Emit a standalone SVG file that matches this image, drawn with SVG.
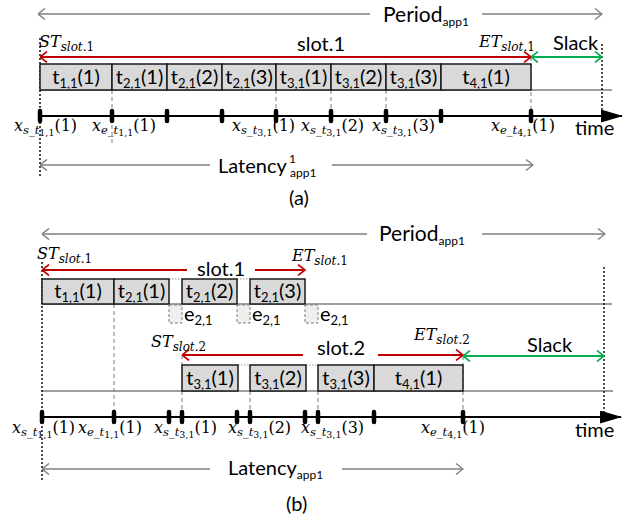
<svg xmlns="http://www.w3.org/2000/svg" width="633" height="522" viewBox="0 0 633 522">
  <style>
    .sans { font-family: Lato, "Liberation Sans", sans-serif; fill: #000; }
    .box-t { font-size: 20px; text-anchor: middle; }
    .sb { font-size: 13px; }
    .big { font-size: 20px; }
    .per { font-size: 21px; }
    .small { font-size: 12px; }
    .math { font-family: "DejaVu Serif", "Liberation Serif", serif; font-size: 16px; fill: #000; }
    .mi { font-style: italic; }
    .ms { font-style: italic; font-size: 11.5px; }
    .mss { font-size: 9.5px; }
    .st { font-family: "DejaVu Serif", "Liberation Serif", serif; font-size: 16px; fill: #000; }
    .st-s { font-style: italic; font-size: 12px; }
    .st-n { font-size: 12px; }
    .task { fill: #d9d9d9; stroke: #1a1a1a; stroke-width: 1.5; }
    .gap { fill: #efefef; stroke: #7f7f7f; stroke-width: 1; stroke-dasharray: 3 2; }
    .gline { stroke: #7f7f7f; stroke-width: 1.6; fill: none; }
    .garrow { stroke: #7f7f7f; stroke-width: 1.6; fill: none; }
    .rarrow { stroke: #c00000; stroke-width: 1.8; fill: none; }
    .grn { stroke: #00b050; stroke-width: 1.8; fill: none; }
    .dash { stroke: #7f7f7f; stroke-width: 1; stroke-dasharray: 4 3; fill: none; }
    .dot { stroke: #000; stroke-width: 1.4; stroke-dasharray: 2 2; fill: none; }
    .tdot { stroke: #9a9a9a; stroke-width: 1; stroke-dasharray: 1.5 1.5; fill: none; }
    .axis { stroke: #000; stroke-width: 2; fill: none; }
    .tick { stroke: #000; stroke-width: 4.5; stroke-linecap: round; }
  </style>
  <defs>
    <marker id="mg" viewBox="0 0 10 12" refX="9.5" refY="6" markerWidth="10" markerHeight="12" markerUnits="userSpaceOnUse" orient="auto-start-reverse">
      <path d="M2.5,0.5 L9.5,6 L2.5,11.5" fill="none" stroke="#7f7f7f" stroke-width="1.4"/>
    </marker>
    <marker id="mr" viewBox="0 0 10 12" refX="9.5" refY="6" markerWidth="10" markerHeight="12" markerUnits="userSpaceOnUse" orient="auto-start-reverse">
      <path d="M2.5,0.5 L9.5,6 L2.5,11.5" fill="none" stroke="#c00000" stroke-width="1.6"/>
    </marker>
    <marker id="mgr" viewBox="0 0 10 12" refX="9.5" refY="6" markerWidth="10" markerHeight="12" markerUnits="userSpaceOnUse" orient="auto-start-reverse">
      <path d="M2.5,0.5 L9.5,6 L2.5,11.5" fill="none" stroke="#00b050" stroke-width="1.6"/>
    </marker>
    <marker id="mt" viewBox="0 0 22 13" refX="21" refY="6.5" markerWidth="22" markerHeight="13" markerUnits="userSpaceOnUse" orient="auto">
      <path d="M0,0 L22,6.5 L0,13 Z" fill="#000"/>
    </marker>
  </defs>

  <!-- ===================== (a) single slot ===================== -->
  <g id="a-guides">
    <line class="gline" x1="40" y1="90" x2="612" y2="90"/>
    <line class="dot" x1="40" y1="38" x2="40" y2="176"/>
    <line class="dot" x1="602" y1="44" x2="602" y2="117"/>
    <path class="dash" d="M112,90 V146 M276,90 V116 M331,90 V116 M386,90 V116 M531,57 V116"/>
  </g>

  <g id="a-period">
    <line class="garrow" x1="38" y1="14" x2="370" y2="14" marker-start="url(#mg)"/>
    <line class="garrow" x1="482" y1="14" x2="602" y2="14" marker-end="url(#mg)"/>
    <text class="sans per" x="383" y="22">Period<tspan class="small" dy="4">app1</tspan></text>
  </g>

  <g id="a-slot1">
    <line class="rarrow" x1="40" y1="57" x2="531" y2="57" marker-start="url(#mr)" marker-end="url(#mr)"/>
    <text class="sans big" x="297" y="51">slot.1</text>
    <text class="st" x="39" y="47"><tspan class="mi">ST</tspan><tspan class="st-s" dy="4">slot</tspan><tspan class="st-n">.1</tspan></text>
    <text class="st" x="479" y="47"><tspan class="mi">ET</tspan><tspan class="st-s" dy="4">slot</tspan><tspan class="st-n">.1</tspan></text>
  </g>

  <g id="a-slack">
    <line class="grn" x1="531" y1="57" x2="602" y2="57" marker-start="url(#mgr)" marker-end="url(#mgr)"/>
    <text class="sans big" x="553" y="50">Slack</text>
  </g>

  <g id="a-tasks">
    <rect class="task" x="40" y="64" width="72" height="26"/>
    <rect class="task" x="112" y="64" width="55" height="26"/>
    <rect class="task" x="167" y="64" width="55" height="26"/>
    <rect class="task" x="222" y="64" width="54" height="26"/>
    <rect class="task" x="276" y="64" width="55" height="26"/>
    <rect class="task" x="331" y="64" width="55" height="26"/>
    <rect class="task" x="386" y="64" width="55" height="26"/>
    <rect class="task" x="441" y="64" width="90" height="26"/>
    <text class="sans box-t" x="76" y="84">t<tspan class="sb" dy="4">1,1</tspan><tspan dy="-4">(1)</tspan></text>
    <text class="sans box-t" x="139.5" y="84">t<tspan class="sb" dy="4">2,1</tspan><tspan dy="-4">(1)</tspan></text>
    <text class="sans box-t" x="194.5" y="84">t<tspan class="sb" dy="4">2,1</tspan><tspan dy="-4">(2)</tspan></text>
    <text class="sans box-t" x="249" y="84">t<tspan class="sb" dy="4">2,1</tspan><tspan dy="-4">(3)</tspan></text>
    <text class="sans box-t" x="303.5" y="84">t<tspan class="sb" dy="4">3,1</tspan><tspan dy="-4">(1)</tspan></text>
    <text class="sans box-t" x="358.5" y="84">t<tspan class="sb" dy="4">3,1</tspan><tspan dy="-4">(2)</tspan></text>
    <text class="sans box-t" x="413.5" y="84">t<tspan class="sb" dy="4">3,1</tspan><tspan dy="-4">(3)</tspan></text>
    <text class="sans box-t" x="486" y="84">t<tspan class="sb" dy="4">4,1</tspan><tspan dy="-4">(1)</tspan></text>
  </g>

  <g id="a-timeline">
    <line class="axis" x1="40" y1="116" x2="622" y2="116" marker-end="url(#mt)"/>
    <path class="tick" d="M40,111 V121 M112,111 V121 M167,111 V121 M222,111 V121 M276,111 V121 M331,111 V121 M386,111 V121 M441,111 V121 M531,111 V121"/>
    <text class="sans big" x="575" y="135">time</text>
    <text class="math" x="14" y="131"><tspan class="mi">x</tspan><tspan class="ms" dy="3">s_t</tspan><tspan class="mss" dy="2">1,1</tspan><tspan dy="-5">(1)</tspan></text>
    <text class="math" x="92" y="131"><tspan class="mi">x</tspan><tspan class="ms" dy="3">e_t</tspan><tspan class="mss" dy="2">1,1</tspan><tspan dy="-5">(1)</tspan></text>
    <text class="math" x="232" y="131"><tspan class="mi">x</tspan><tspan class="ms" dy="3">s_t</tspan><tspan class="mss" dy="2">3,1</tspan><tspan dy="-5">(1)</tspan></text>
    <text class="math" x="301" y="131"><tspan class="mi">x</tspan><tspan class="ms" dy="3">s_t</tspan><tspan class="mss" dy="2">3,1</tspan><tspan dy="-5">(2)</tspan></text>
    <text class="math" x="372" y="131"><tspan class="mi">x</tspan><tspan class="ms" dy="3">s_t</tspan><tspan class="mss" dy="2">3,1</tspan><tspan dy="-5">(3)</tspan></text>
    <text class="math" x="491" y="131"><tspan class="mi">x</tspan><tspan class="ms" dy="3">e_t</tspan><tspan class="mss" dy="2">4,1</tspan><tspan dy="-5">(1)</tspan></text>
  </g>

  <g id="a-latency">
    <line class="garrow" x1="40" y1="165" x2="210" y2="165" marker-start="url(#mg)"/>
    <line class="garrow" x1="332" y1="165" x2="533" y2="165" marker-end="url(#mg)"/>
    <text class="sans big" x="218" y="173">Latency<tspan class="small" x="289" y="163">1</tspan><tspan class="small" x="290" y="177">app1</tspan></text>
  </g>
  <text id="a-caption" class="sans" font-size="20" x="289" y="205">(a)</text>

  <!-- ===================== (b) two slots ===================== -->
  <g id="b-guides">
    <line class="gline" x1="42" y1="304" x2="612" y2="304"/>
    <line class="gline" x1="42" y1="391" x2="613" y2="391"/>
    <line class="dot" x1="42" y1="262" x2="42" y2="480"/>
    <line class="dot" x1="604" y1="267" x2="604" y2="413"/>
    <path class="dash" d="M114,304 V417 M182,355 V365 M182,391 V417 M250,391 V417 M318,391 V417 M463,356 V417"/>
    <path class="tdot" d="M169,279 H182 M237,279 H250 M238,365 H250 M306,365 H318"/>
  </g>

  <g id="b-period">
    <line class="garrow" x1="42" y1="234" x2="367" y2="234" marker-start="url(#mg)"/>
    <line class="garrow" x1="482" y1="234" x2="605" y2="234" marker-end="url(#mg)"/>
    <text class="sans per" x="379" y="241">Period<tspan class="small" dy="4">app1</tspan></text>
  </g>

  <g id="b-slot1">
    <line class="rarrow" x1="42" y1="270" x2="187" y2="270" marker-start="url(#mr)"/>
    <line class="rarrow" x1="255" y1="270" x2="305" y2="270" marker-end="url(#mr)"/>
    <text class="sans big" x="197" y="276">slot.1</text>
    <text class="st" x="37" y="259"><tspan class="mi">ST</tspan><tspan class="st-s" dy="4">slot</tspan><tspan class="st-n">.1</tspan></text>
    <text class="st" x="292" y="261"><tspan class="mi">ET</tspan><tspan class="st-s" dy="4">slot</tspan><tspan class="st-n">.1</tspan></text>
  </g>

  <g id="b-slot1-tasks">
    <rect class="task" x="42" y="279" width="72" height="25"/>
    <rect class="task" x="114" y="279" width="55" height="25"/>
    <rect class="task" x="182" y="279" width="55" height="25"/>
    <rect class="task" x="250" y="279" width="55" height="25"/>
    <text class="sans box-t" x="78" y="298">t<tspan class="sb" dy="4">1,1</tspan><tspan dy="-4">(1)</tspan></text>
    <text class="sans box-t" x="141.5" y="298">t<tspan class="sb" dy="4">2,1</tspan><tspan dy="-4">(1)</tspan></text>
    <text class="sans box-t" x="209.5" y="298">t<tspan class="sb" dy="4">2,1</tspan><tspan dy="-4">(2)</tspan></text>
    <text class="sans box-t" x="277.5" y="298">t<tspan class="sb" dy="4">2,1</tspan><tspan dy="-4">(3)</tspan></text>
  </g>

  <g id="b-gaps">
    <rect class="gap" x="169" y="305" width="13" height="18"/>
    <rect class="gap" x="237" y="305" width="13" height="18"/>
    <rect class="gap" x="305" y="305" width="13" height="18"/>
    <text class="sans big" x="184" y="321">e<tspan class="sb" dy="4">2,1</tspan></text>
    <text class="sans big" x="252" y="321">e<tspan class="sb" dy="4">2,1</tspan></text>
    <text class="sans big" x="320" y="321">e<tspan class="sb" dy="4">2,1</tspan></text>
  </g>

  <g id="b-slot2">
    <line class="rarrow" x1="182" y1="355" x2="303" y2="355" marker-start="url(#mr)"/>
    <line class="rarrow" x1="378" y1="355" x2="463" y2="355" marker-end="url(#mr)"/>
    <text class="sans big" x="317" y="355">slot.2</text>
    <text class="st" x="151" y="347"><tspan class="mi">ST</tspan><tspan class="st-s" dy="4">slot</tspan><tspan class="st-n">.2</tspan></text>
    <text class="st" x="414" y="340"><tspan class="mi">ET</tspan><tspan class="st-s" dy="4">slot</tspan><tspan class="st-n">.2</tspan></text>
  </g>

  <g id="b-slack">
    <line class="grn" x1="463" y1="356" x2="604" y2="356" marker-start="url(#mgr)" marker-end="url(#mgr)"/>
    <text class="sans big" x="527" y="352">Slack</text>
  </g>

  <g id="b-slot2-tasks">
    <rect class="task" x="182" y="365" width="56" height="26"/>
    <rect class="task" x="250" y="365" width="56" height="26"/>
    <rect class="task" x="318" y="365" width="56" height="26"/>
    <rect class="task" x="374" y="365" width="89" height="26"/>
    <text class="sans box-t" x="210" y="385">t<tspan class="sb" dy="4">3,1</tspan><tspan dy="-4">(1)</tspan></text>
    <text class="sans box-t" x="278" y="385">t<tspan class="sb" dy="4">3,1</tspan><tspan dy="-4">(2)</tspan></text>
    <text class="sans box-t" x="346" y="385">t<tspan class="sb" dy="4">3,1</tspan><tspan dy="-4">(3)</tspan></text>
    <text class="sans box-t" x="418.5" y="385">t<tspan class="sb" dy="4">4,1</tspan><tspan dy="-4">(1)</tspan></text>
  </g>

  <g id="b-timeline">
    <line class="axis" x1="42" y1="417" x2="621" y2="417" marker-end="url(#mt)"/>
    <path class="tick" d="M42,412 V422 M114,412 V422 M169,412 V422 M182,412 V422 M237,412 V422 M250,412 V422 M305,412 V422 M318,412 V422 M374,412 V422 M463,412 V422"/>
    <text class="sans big" x="575" y="437">time</text>
    <text class="math" x="12" y="433"><tspan class="mi">x</tspan><tspan class="ms" dy="3">s_t</tspan><tspan class="mss" dy="2">1,1</tspan><tspan dy="-5">(1)</tspan></text>
    <text class="math" x="78" y="433"><tspan class="mi">x</tspan><tspan class="ms" dy="3">e_t</tspan><tspan class="mss" dy="2">1,1</tspan><tspan dy="-5">(1)</tspan></text>
    <text class="math" x="154" y="433"><tspan class="mi">x</tspan><tspan class="ms" dy="3">s_t</tspan><tspan class="mss" dy="2">3,1</tspan><tspan dy="-5">(1)</tspan></text>
    <text class="math" x="228" y="433"><tspan class="mi">x</tspan><tspan class="ms" dy="3">s_t</tspan><tspan class="mss" dy="2">3,1</tspan><tspan dy="-5">(2)</tspan></text>
    <text class="math" x="301" y="433"><tspan class="mi">x</tspan><tspan class="ms" dy="3">s_t</tspan><tspan class="mss" dy="2">3,1</tspan><tspan dy="-5">(3)</tspan></text>
    <text class="math" x="421" y="433"><tspan class="mi">x</tspan><tspan class="ms" dy="3">e_t</tspan><tspan class="mss" dy="2">4,1</tspan><tspan dy="-5">(1)</tspan></text>
  </g>

  <g id="b-latency">
    <line class="garrow" x1="42" y1="469" x2="210" y2="469" marker-start="url(#mg)"/>
    <line class="garrow" x1="342" y1="469" x2="463" y2="469" marker-end="url(#mg)"/>
    <text class="sans big" x="228" y="475">Latency<tspan class="small" dy="4">app1</tspan></text>
  </g>
  <text id="b-caption" class="sans" font-size="20" x="286" y="511">(b)</text>
</svg>
